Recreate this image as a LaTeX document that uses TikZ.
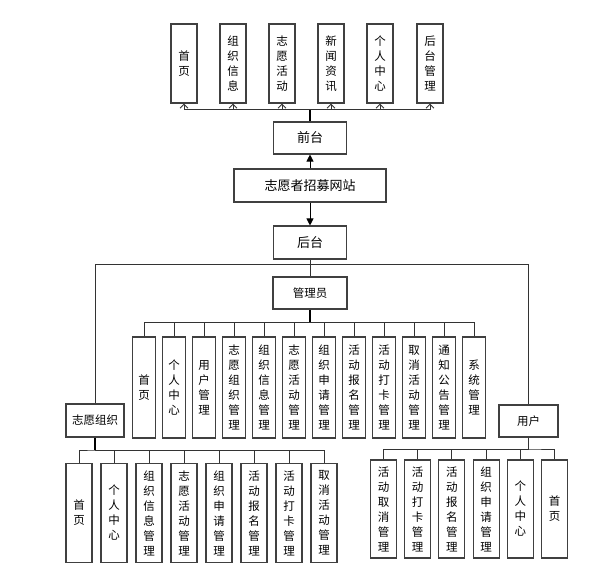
\documentclass[tikz,border=0pt]{standalone}
\usepackage{fontspec}
\setmainfont{Noto Sans CJK SC}
\usetikzlibrary{arrows.meta}

\tikzset{
	box/.style={draw=black!75, line width=1.1pt, inner sep=0pt, align=center, font=\fontsize{11.5}{15}\selectfont},
	col/.style={box, minimum width=26pt, minimum height=79pt},
	acol/.style={box, minimum width=23pt, minimum height=101pt},
	ocol/.style={box, minimum width=26pt, minimum height=99pt},
	ucol/.style={box, minimum width=26pt, minimum height=98pt},
	main/.style={box, font=\fontsize{13}{15}\selectfont},
	wire/.style={draw=black!80, line width=0.9pt},
	trunk/.style={draw=black, line width=1.4pt},
	opentip/.style={wire, -{Straight Barb[length=4pt,width=8pt]}},
	filltip/.style={draw=black, line width=0.8pt, -{Triangle[length=7pt,width=7pt]}}
}

\begin{document}
\begin{tikzpicture}[x=1pt, y=-1pt]
	\useasboundingbox (0,0) rectangle (610,575);

	% front end
	\node[col] (f1) at (184,63.5) {首\\页};
	\node[col] (f2) at (233,63.5) {组\\织\\信\\息};
	\node[col] (f3) at (282,63.5) {志\\愿\\活\\动};
	\node[col] (f4) at (331,63.5) {新\\闻\\资\\讯};
	\node[col] (f5) at (380,63.5) {个\\人\\中\\心};
	\node[col] (f6) at (430,63.5) {后\\台\\管\\理};

	\node[main, minimum width=73pt, minimum height=32pt] (front) at (310,138) {前台};
	\node[main, minimum width=152pt, minimum height=33pt] (site) at (310,185.5) {志愿者招募网站};
	\node[main, minimum width=73pt, minimum height=33pt] (back) at (310,242.5) {后台};

	\coordinate (fb) at (310,109);
	\draw[trunk] (front.north) -- (fb);
	\draw[opentip] (fb) -| (f1.south);
	\draw[opentip] (fb) -| (f2.south);
	\draw[opentip] (fb) -| (f3.south);
	\draw[opentip] (fb) -| (f4.south);
	\draw[opentip] (fb) -| (f5.south);
	\draw[opentip] (fb) -| (f6.south);

	\draw[filltip] (site) -- (front);
	\draw[filltip] (site) -- (back);

	% back end
	\node[box, minimum width=74pt, minimum height=32pt] (admin) at (310,293) {管理员};
	\node[box, minimum width=58pt, minimum height=33pt] (org) at (95,420.5) {志愿组织};
	\node[box, minimum width=59pt, minimum height=32pt] (user) at (528.5,421) {用户};

	\coordinate (bb) at (310,264.5);
	\draw[wire] (back.south) -- (admin.north);
	\draw[wire] (org.north) |- (bb) -| (user.north);

	% admin
	\node[acol] (a1) at (144,387.5) {首\\页};
	\node[acol] (a2) at (174,387.5) {个\\人\\中\\心};
	\node[acol] (a3) at (204,387.5) {用\\户\\管\\理};
	\node[acol] (a4) at (234,387.5) {志\\愿\\组\\织\\管\\理};
	\node[acol] (a5) at (264,387.5) {组\\织\\信\\息\\管\\理};
	\node[acol] (a6) at (294,387.5) {志\\愿\\活\\动\\管\\理};
	\node[acol] (a7) at (324,387.5) {组\\织\\申\\请\\管\\理};
	\node[acol] (a8) at (354,387.5) {活\\动\\报\\名\\管\\理};
	\node[acol] (a9) at (384,387.5) {活\\动\\打\\卡\\管\\理};
	\node[acol] (a10) at (414,387.5) {取\\消\\活\\动\\管\\理};
	\node[acol] (a11) at (444,387.5) {通\\知\\公\\告\\管\\理};
	\node[acol] (a12) at (474,387.5) {系\\统\\管\\理};

	\coordinate (ab) at (310,322);
	\draw[trunk] (admin.south) -- (ab);
	\draw[wire] (a1.north) |- (ab) -| (a12.north);
	\draw[wire] (ab) -| (a2.north) (ab) -| (a3.north) (ab) -| (a4.north)
		(ab) -| (a5.north) (ab) -| (a6.north) (ab) -| (a7.north)
		(ab) -| (a8.north) (ab) -| (a9.north) (ab) -| (a10.north) (ab) -| (a11.north);

	% organisation
	\node[ocol] (o1) at (79,513) {首\\页};
	\node[ocol] (o2) at (114,513) {个\\人\\中\\心};
	\node[ocol] (o3) at (149,513) {组\\织\\信\\息\\管\\理};
	\node[ocol] (o4) at (184,513) {志\\愿\\活\\动\\管\\理};
	\node[ocol] (o5) at (219,513) {组\\织\\申\\请\\管\\理};
	\node[ocol] (o6) at (254,513) {活\\动\\报\\名\\管\\理};
	\node[ocol] (o7) at (289,513) {活\\动\\打\\卡\\管\\理};
	\node[ocol] (o8) at (324,513) {取\\消\\活\\动\\管\\理};

	\coordinate (ob) at (95,450);
	\draw[trunk] (org.south) -- (ob);
	\draw[wire] (o1.north) |- (ob) -| (o8.north);
	\draw[wire] (ob) -| (o2.north) (ob) -| (o3.north) (ob) -| (o4.north)
		(ob) -| (o5.north) (ob) -| (o6.north) (ob) -| (o7.north);

	% user
	\node[ucol] (u1) at (383.5,509) {活\\动\\取\\消\\管\\理};
	\node[ucol] (u2) at (417.7,509) {活\\动\\打\\卡\\管\\理};
	\node[ucol] (u3) at (451.9,509) {活\\动\\报\\名\\管\\理};
	\node[ucol] (u4) at (486.1,509) {组\\织\\申\\请\\管\\理};
	\node[ucol] (u5) at (520.3,509) {个\\人\\中\\心};
	\node[ucol] (u6) at (554.5,509) {首\\页};

	\coordinate (ub) at (528.5,449);
	\draw[wire] (user.south) -- (ub);
	\draw[wire] (u1.north) |- (ub) -| (u6.north);
	\draw[wire] (ub) -| (u2.north) (ub) -| (u3.north) (ub) -| (u4.north) (ub) -| (u5.north);
\end{tikzpicture}
\end{document}
